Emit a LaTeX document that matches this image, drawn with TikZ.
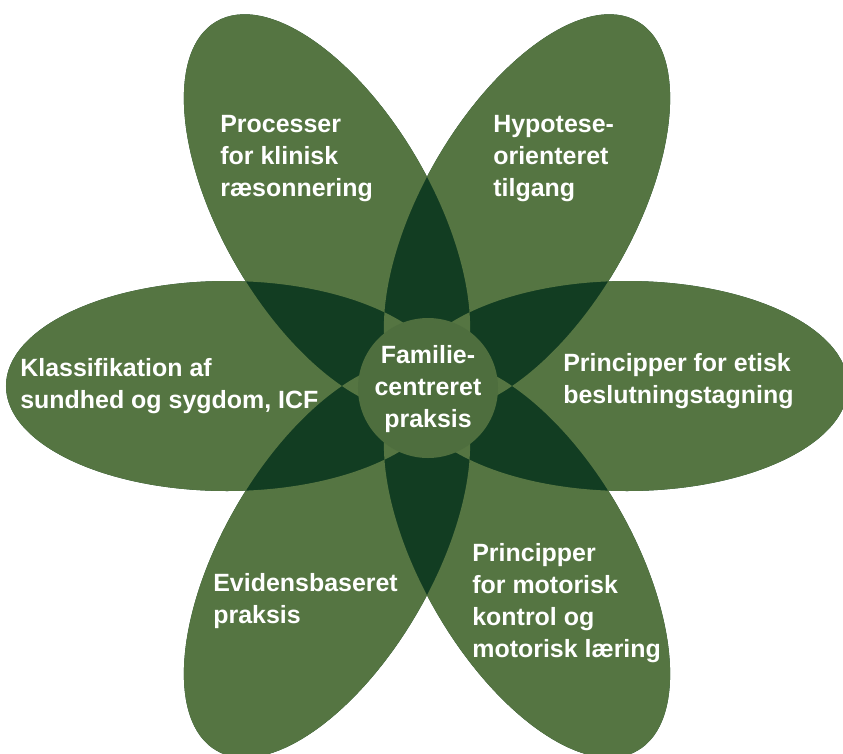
\documentclass[tikz,border=0pt]{standalone}
\usepackage{fontspec}
\setmainfont{Liberation Sans}
\usepackage{tikz}
\usetikzlibrary{positioning}
\definecolor{petalgreen}{HTML}{557542}
\definecolor{overlapgreen}{HTML}{123D22}
\definecolor{hubgreen}{HTML}{4E6E3E}
\tikzset{
  petaltext/.style={text=white, font=\bfseries\fontsize{14.2}{18.2}\selectfont, align=left, inner sep=0pt, anchor=base west},
  hubtext/.style={text=white, font=\bfseries\fontsize{14.2}{18.2}\selectfont, align=center, inner sep=0pt, anchor=base},
  hub/.style={circle, fill=hubgreen, minimum size=2.8cm, inner sep=0pt}
}

\begin{document}
\begin{tikzpicture}
  \useasboundingbox (-8.54,-7.34) rectangle (8.32,7.72);
  % six petals: dark where two overlap, light elsewhere
  \fill[overlapgreen] \foreach \a in {0,60,...,300} {(\a:4) ellipse [x radius=4.42cm, y radius=2.1cm, rotate=\a]};
  \fill[petalgreen, even odd rule] \foreach \a in {0,60,...,300} {(\a:4) ellipse [x radius=4.42cm, y radius=2.1cm, rotate=\a]};
  \node[hub] (hub) at (0.02,-0.04) {};
  % base anchor sits on the last line
  \node[hubtext] (center) at (0.02,-0.82) {Familie-\\centreret\\praksis};

  \node[petaltext] (clinical) at (-4.14,3.80) {Processer\\for klinisk\\ræsonnering};
  \node[petaltext] (hypothesis) at (1.32,3.80) {Hypotese-\\orienteret\\tilgang};
  \node[petaltext] (icf) at (-8.14,-0.44) {Klassifikation af\\sundhed og sygdom, ICF};
  \node[petaltext] (ethics) at (2.72,-0.34) {Principper for etisk\\beslutningstagning};
  \node[petaltext] (evidence) at (-4.28,-4.74) {Evidensbaseret\\praksis};
  \node[petaltext] (motor) at (0.90,-5.42) {Principper\\for motorisk\\kontrol og\\motorisk læring};
\end{tikzpicture}
\end{document}
